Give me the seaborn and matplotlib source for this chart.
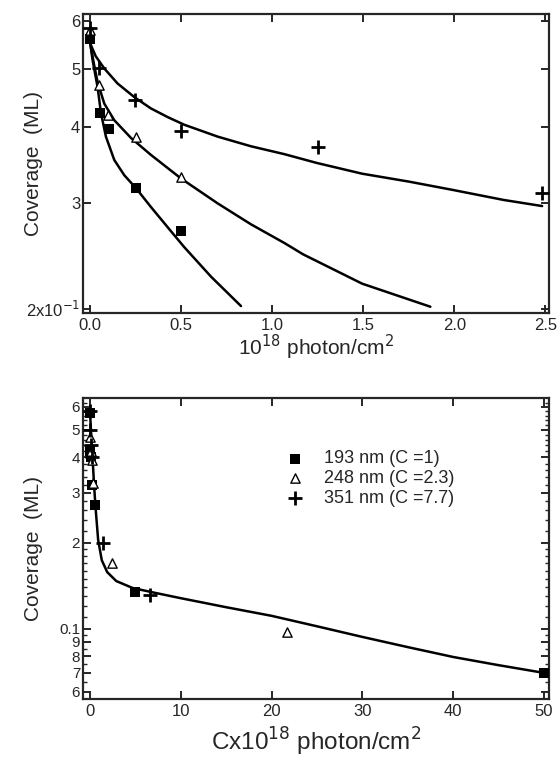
import numpy as np
import pandas as pd
import seaborn as sns
import matplotlib.pyplot as plt
from matplotlib.ticker import FixedLocator, FixedFormatter, NullFormatter

# ---- data (coverage in ML, fluence in 1e18 photon/cm2) ----
# top panel: raw fluence
top_193_x = [0.0, 0.055, 0.104, 0.25, 0.5]
top_193_y = [0.560, 0.423, 0.398, 0.317, 0.269]
top_248_x = [0.0, 0.05, 0.1, 0.25, 0.5]
top_248_y = [0.580, 0.470, 0.419, 0.386, 0.331]
top_351_x = [0.0, 0.05, 0.245, 0.5, 1.25, 2.48]
top_351_y = [0.584, 0.502, 0.444, 0.394, 0.371, 0.311]

fit_193_x = [0.0, 0.013, 0.04, 0.059, 0.086, 0.132, 0.187, 0.251, 0.333, 0.425, 0.516, 0.663, 0.828]
fit_193_y = [0.551, 0.517, 0.467, 0.422, 0.386, 0.353, 0.333, 0.317, 0.295, 0.273, 0.253, 0.226, 0.2019]
fit_248_x = [0.0, 0.02, 0.04, 0.077, 0.132, 0.224, 0.333, 0.498, 0.70, 0.883, 1.066, 1.17, 1.493, 1.868]
fit_248_y = [0.551, 0.51, 0.476, 0.438, 0.411, 0.384, 0.360, 0.329, 0.299, 0.276, 0.257, 0.246, 0.220, 0.2014]
fit_351_x = [0.0, 0.03, 0.077, 0.15, 0.242, 0.333, 0.425, 0.516, 0.70, 0.883, 1.066,
             1.245, 1.493, 1.75, 1.987, 2.27, 2.482]
fit_351_y = [0.551, 0.525, 0.501, 0.473, 0.449, 0.430, 0.416, 0.404, 0.386, 0.372, 0.361,
             0.349, 0.335, 0.325, 0.315, 0.303, 0.296]

# bottom panel: scaled fluence C x 1e18
bot_193_x = [0.0, 0.05, 0.1, 0.25, 0.5, 5.0, 50.0]
bot_193_y = [0.57, 0.42, 0.40, 0.32, 0.272, 0.135, 0.070]
bot_248_x = [0.05, 0.1, 0.2, 0.3, 2.4, 21.7]
bot_248_y = [0.47, 0.42, 0.39, 0.325, 0.170, 0.0975]
bot_351_x = [0.0, 0.05, 0.1, 0.2, 1.4, 6.6]
bot_351_y = [0.58, 0.50, 0.44, 0.40, 0.20, 0.131]

fit_all_x = [0.0, 0.15, 0.3, 0.45, 0.6, 0.9, 1.3, 1.9, 2.9, 4.7, 7, 10, 15, 20, 25, 30, 35, 40, 45, 50]
fit_all_y = [0.58, 0.47, 0.39, 0.32, 0.27, 0.205, 0.174, 0.158, 0.147, 0.139, 0.134, 0.128,
             0.119, 0.111, 0.102, 0.0936, 0.0862, 0.0796, 0.0745, 0.070]

legend_labels = ['193 nm (C =1)', '248 nm (C =2.3)', '351 nm (C =7.7)']

sns.set_style('ticks')
plt.rcParams['font.family'] = ['Liberation Sans', 'DejaVu Sans']
plt.rcParams['axes.linewidth'] = 1.6

fig = plt.figure(figsize=(5.58, 7.65), dpi=100)
ax1 = fig.add_axes([0.1487, 0.5908, 0.8353, 0.3909])
ax2 = fig.add_axes([0.1487, 0.0863, 0.8353, 0.3934])

mk = dict(sq=dict(marker='s', s=45, color='black', edgecolor='black', linewidth=0),
          tri=dict(marker='^', s=45, facecolor='white', edgecolor='black', linewidth=1.0),
          plus=dict(marker='+', s=110, color='black', linewidth=2.0))


def draw_points(ax, x193, y193, x248, y248, x351, y351, legend=False):
    sns.scatterplot(x=x193, y=y193, ax=ax, label=legend_labels[0] if legend else None,
                    zorder=3, **mk['sq'])
    sns.scatterplot(x=x248, y=y248, ax=ax, label=legend_labels[1] if legend else None,
                    zorder=3, **mk['tri'])
    sns.scatterplot(x=x351, y=y351, ax=ax, label=legend_labels[2] if legend else None,
                    zorder=3, **mk['plus'])


def fit_line(ax, x, y):
    df = pd.DataFrame({'x': x, 'y': y})
    sns.lineplot(data=df, x='x', y='y', ax=ax, color='black', linewidth=1.8,
                 sort=False, estimator=None)


# ---- top panel ----
for fx, fy in [(fit_193_x, fit_193_y), (fit_248_x, fit_248_y), (fit_351_x, fit_351_y)]:
    fit_line(ax1, fx, fy)
draw_points(ax1, top_193_x, top_193_y, top_248_x, top_248_y, top_351_x, top_351_y)

ax1.set_yscale('log')
ax1.set_ylim(0.1966, 0.617)
ax1.set_xlim(-0.04, 2.52)
ax1.yaxis.set_major_locator(FixedLocator([0.2, 0.3, 0.4, 0.5, 0.6]))
ax1.yaxis.set_major_formatter(FixedFormatter([r'2x10$^{-1}$', '3', '4', '5', '6']))
ax1.yaxis.set_minor_locator(FixedLocator([]))
ax1.yaxis.set_minor_formatter(NullFormatter())
ax1.set_xticks([0.0, 0.5, 1.0, 1.5, 2.0, 2.5])
ax1.set_xticklabels(['0.0', '0.5', '1.0', '1.5', '2.0', '2.5'])
ax1.set_ylabel('Coverage  (ML)', fontsize=15)
ax1.set_xlabel(r'10$^{18}$ photon/cm$^2$', fontsize=15, labelpad=0)

# ---- bottom panel ----
fit_line(ax2, fit_all_x, fit_all_y)
draw_points(ax2, bot_193_x, bot_193_y, bot_248_x, bot_248_y, bot_351_x, bot_351_y, legend=True)

ax2.set_yscale('log')
ax2.set_ylim(0.0567, 0.645)
ax2.set_xlim(-0.77, 50.55)
majors = [0.06, 0.07, 0.08, 0.09, 0.1, 0.2, 0.3, 0.4, 0.5, 0.6]
ax2.yaxis.set_major_locator(FixedLocator(majors))
ax2.yaxis.set_major_formatter(FixedFormatter(['6', '7', '8', '9', '0.1', '2', '3', '4', '5', '6']))
minors = list(np.arange(0.065, 0.1, 0.01)) + list(np.arange(0.11, 0.2, 0.01)) + \
    [v for v in np.arange(0.22, 0.64, 0.02) if min(abs(v - m) for m in majors) > 1e-6]
ax2.yaxis.set_minor_locator(FixedLocator(minors))
ax2.yaxis.set_minor_formatter(NullFormatter())
ax2.set_xticks([0, 10, 20, 30, 40, 50])
ax2.set_ylabel('Coverage  (ML)', fontsize=15)
ax2.set_xlabel(r'Cx10$^{18}$ photon/cm$^2$', fontsize=17.5, labelpad=5)

leg = ax2.legend(loc='upper left', bbox_to_anchor=(0.40, 0.85), frameon=False,
                 fontsize=13, handletextpad=0.6, labelspacing=0.15, borderaxespad=0)

for ax in (ax1, ax2):
    ax.tick_params(which='both', direction='in', top=True, right=True, labelsize=12)
    ax.tick_params(which='major', length=6, width=1.4)
    ax.tick_params(which='minor', length=3, width=1.0)
    ax.tick_params(axis='y', pad=2)
    ax.yaxis.set_label_coords(-0.085, 0.5)
ax2.tick_params(axis='y', labelsize=11)

fig.savefig('out.png', dpi=100)
